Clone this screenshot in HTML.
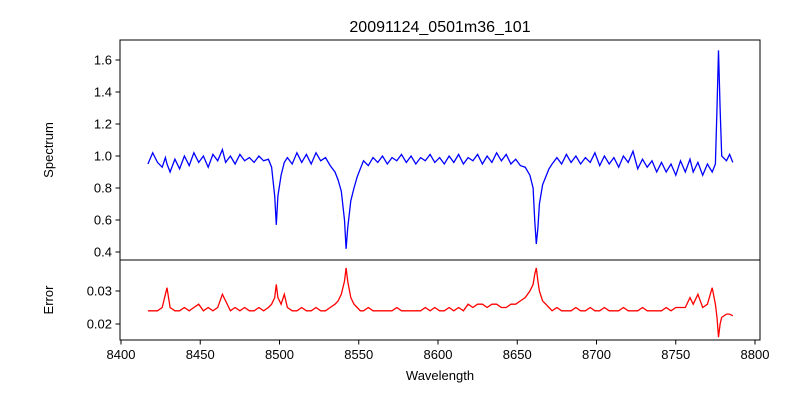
<!DOCTYPE html>
<html><head><meta charset="utf-8"><style>
body{margin:0;background:#fff;}
svg{font-family:"Liberation Sans","DejaVu Sans",sans-serif;}
</style></head><body>
<svg id="chart" width="800" height="400" viewBox="0 0 800 400">
<rect width="800" height="400" fill="#fff"/>
<text x="440" y="32" font-size="16" text-anchor="middle">20091124_0501m36_101</text>
<g id="plots"></g>
<rect x="120" y="40" width="640" height="220" fill="none" stroke="#000" stroke-width="1"/>
<rect x="120" y="260" width="640" height="80" fill="none" stroke="#000" stroke-width="1"/>
<text x="0" y="0" font-size="13" text-anchor="middle" transform="translate(53,150) rotate(-90)">Spectrum</text>
<text x="0" y="0" font-size="13" text-anchor="middle" transform="translate(53,300) rotate(-90)">Error</text>
<text x="440" y="380" font-size="13" text-anchor="middle">Wavelength</text>
</svg>
<script>
const wavelengths=[8417,8420,8423,8426,8428,8429,8431,8434,8437,8440,8443,8446,8449,8452,8455,8458,8461,8464,8466,8469,8472,8475,8478,8481,8484,8487,8490,8493,8495,8497,8498,8499,8501,8503,8505,8508,8511,8514,8517,8520,8523,8526,8529,8532,8535,8537,8539,8541,8542,8543,8545,8547,8549,8551,8553,8556,8559,8562,8565,8568,8571,8574,8577,8580,8583,8586,8589,8592,8595,8598,8601,8604,8607,8610,8613,8616,8619,8622,8625,8628,8631,8634,8637,8640,8643,8646,8649,8652,8655,8658,8660,8661,8662,8663,8664,8666,8668,8670,8672,8675,8678,8681,8684,8687,8690,8693,8696,8699,8702,8705,8708,8711,8714,8717,8720,8723,8726,8729,8732,8735,8738,8741,8744,8747,8750,8753,8756,8759,8761,8764,8767,8770,8773,8775,8776,8777,8778,8779,8782,8784,8786];
const flux=[.95,1.02,.96,.93,.99,.95,.90,.98,.92,1.00,.94,1.02,.96,1.00,.93,1.01,.97,1.04,.96,1.00,.95,1.01,.97,.99,.96,1.00,.97,.98,.93,.75,.57,.75,.88,.96,.99,.95,1.02,.96,1.01,.95,1.02,.97,.99,.94,.90,.85,.78,.60,.42,.55,.72,.80,.87,.92,.97,.94,.99,.96,1.00,.95,.99,.97,1.01,.96,1.00,.95,.99,.97,1.01,.96,.99,.95,1.00,.96,1.01,.95,.99,.97,1.01,.95,1.00,.96,1.02,.97,1.01,.95,.98,.94,.93,.88,.80,.60,.45,.55,.70,.82,.87,.92,.95,.99,.95,1.01,.96,1.00,.95,.99,.96,1.02,.94,1.00,.95,.99,.93,1.00,.96,1.03,.92,.98,.93,.97,.90,.96,.90,.95,.88,.97,.90,.98,.90,.96,.88,.95,.90,.95,1.30,1.66,1.30,1.00,.97,1.01,.96];
const errors=[.024,.024,.024,.025,.029,.031,.025,.024,.024,.025,.024,.025,.026,.024,.025,.024,.025,.029,.027,.024,.025,.024,.025,.024,.024,.025,.024,.025,.026,.028,.032,.028,.026,.029,.025,.024,.024,.025,.024,.024,.025,.024,.024,.025,.026,.027,.029,.033,.037,.033,.028,.026,.025,.024,.024,.025,.024,.024,.024,.024,.024,.025,.024,.024,.024,.024,.024,.025,.024,.025,.024,.024,.025,.024,.025,.024,.026,.025,.026,.026,.025,.026,.026,.025,.025,.026,.026,.027,.028,.030,.032,.035,.037,.033,.030,.027,.026,.025,.024,.025,.024,.024,.024,.025,.024,.024,.025,.024,.024,.025,.024,.024,.024,.025,.024,.024,.024,.025,.024,.024,.024,.024,.025,.024,.025,.025,.025,.028,.026,.029,.025,.026,.031,.026,.022,.016,.020,.022,.023,.023,.0225];
const xTicks=[8400,8450,8500,8550,8600,8650,8700,8750,8800];
const fluxTicks=[0.4,0.6,0.8,1.0,1.2,1.4,1.6];
const errTicks=[0.02,0.03];

const NS='http://www.w3.org/2000/svg';
const g=document.getElementById('plots');
const xs=v=>121+(v-8400)*(634/400);
const yf=v=>252-(v-0.4)*160;
const ye=v=>324-(v-0.02)*3300;
function mk(tag,attrs){const e=document.createElementNS(NS,tag);for(const k in attrs)e.setAttribute(k,attrs[k]);g.appendChild(e);return e;}

let p1=wavelengths.map((w,i)=>(i?'L':'M')+xs(w).toFixed(1)+','+yf(flux[i]).toFixed(1)).join('');
const l1=mk('path',{d:p1,fill:'none',stroke:'#0000ff','stroke-width':1.3});


let p2=wavelengths.map((w,i)=>(i?'L':'M')+xs(w).toFixed(1)+','+ye(errors[i]).toFixed(1)).join('');
const l2=mk('path',{d:p2,fill:'none',stroke:'#ff0000','stroke-width':1.3});



xTicks.forEach(t=>{const x=xs(t);
 const tk=mk('line',{x1:x,x2:x,y1:340,y2:344.5,stroke:'#000'});
 
 
 const tx=mk('text',{x:x,y:359,'font-size':13,'text-anchor':'middle'});tx.textContent=t;
 
 
});
fluxTicks.forEach(t=>{const y=yf(t);
 const tk=mk('line',{x1:115.5,x2:120,y1:y,y2:y,stroke:'#000'});
 
 
 const tx=mk('text',{x:112,y:y+4.5,'font-size':13,'text-anchor':'end'});tx.textContent=t.toFixed(1);
 
 
});
errTicks.forEach(t=>{const y=ye(t);
 const tk=mk('line',{x1:115.5,x2:120,y1:y,y2:y,stroke:'#000'});
 
 
 const tx=mk('text',{x:112,y:y+4.5,'font-size':13,'text-anchor':'end'});tx.textContent=t.toFixed(2);
 
 
});
</script>
</body></html>
